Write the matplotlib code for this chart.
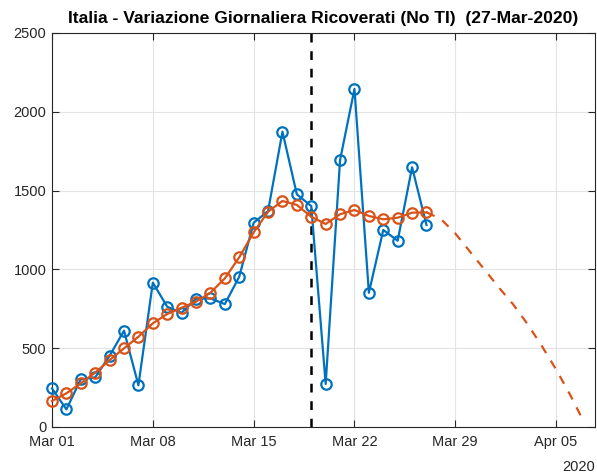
import numpy as np
import matplotlib
matplotlib.use("Agg")
import matplotlib.pyplot as plt
import datetime as dt

plt.rcParams['font.family'] = ['Liberation Sans', 'DejaVu Sans']

start = dt.datetime(2020, 3, 1)
days = list(range(27))
daily = [245, 112, 303, 315, 452, 611, 265, 916, 763, 725, 814, 816, 780, 954,
         1296, 1370, 1874, 1476, 1402, 273, 1694, 2145, 852, 1250, 1182, 1648, 1282]
smooth = [165, 214, 277, 345, 425, 499, 573, 658, 717, 757, 795, 852, 943, 1077,
          1235, 1366, 1434, 1409, 1334, 1288, 1350, 1377, 1339, 1318, 1328, 1360, 1362]
fc_days = [26, 27, 28, 29, 30, 31, 32, 33, 34, 35, 36, 36.8]
fc_vals = [1362, 1320, 1228, 1115, 1002, 888, 780, 655, 515, 365, 200, 55]
vline_day = 18
xtick_days = [0, 7, 14, 21, 28, 35]
xtick_labels = ['Mar 01', 'Mar 08', 'Mar 15', 'Mar 22', 'Mar 29', 'Apr 05']
yticks = [0, 500, 1000, 1500, 2000, 2500]

def to_date(d):
    return start + dt.timedelta(days=d)

x = [to_date(d) for d in days]
xf = [to_date(d) for d in fc_days]

blue = '#0072BD'
orange = '#D95319'

fig = plt.figure(figsize=(5.97, 4.76), dpi=100)
ax = fig.add_axes([52/597, 1 - 427/476, 543/597, 394/476])

ax.plot(xf, fc_vals, color=orange, lw=1.6, ls=(0, (4, 4)))
ax.plot(x, daily, color=blue, lw=1.6, marker='o', ms=7.5, mfc='none', mew=1.6,
        clip_on=False, zorder=3)
ax.plot(x, smooth, color=orange, lw=1.6, marker='o', ms=7.5, mfc='none', mew=1.6,
        clip_on=False, zorder=3)
ax.axvline(to_date(vline_day), color='black', lw=1.8, ls=(0, (3.5, 3.5)))

ax.set_xlim(to_date(0), to_date(37.7))
ax.set_ylim(0, 2500)
ax.set_xticks([to_date(d) for d in xtick_days])
ax.set_xticklabels(xtick_labels)
ax.set_yticks(yticks)
ax.grid(True, color='#e3e3e3', lw=0.8)
ax.set_axisbelow(True)
ax.tick_params(direction='in', length=5, width=0.8, top=True, right=True,
               labelsize=10.5, colors='#262626')
ax.tick_params(axis='x', pad=6)
ax.tick_params(axis='y', pad=4)
for s in ax.spines.values():
    s.set_color('#262626')
    s.set_linewidth(0.8)

ax.text(1.0, -0.085, '2020', transform=ax.transAxes, ha='right', va='top',
        fontsize=10.5, color='#262626')
fig.text(52/597 + 543/597/2, 1 - 18/476,
         'Italia - Variazione Giornaliera Ricoverati (No TI)  (27-Mar-2020)',
         ha='center', va='center', fontsize=12.6, fontweight='bold')

fig.savefig('out.png', dpi=100)
